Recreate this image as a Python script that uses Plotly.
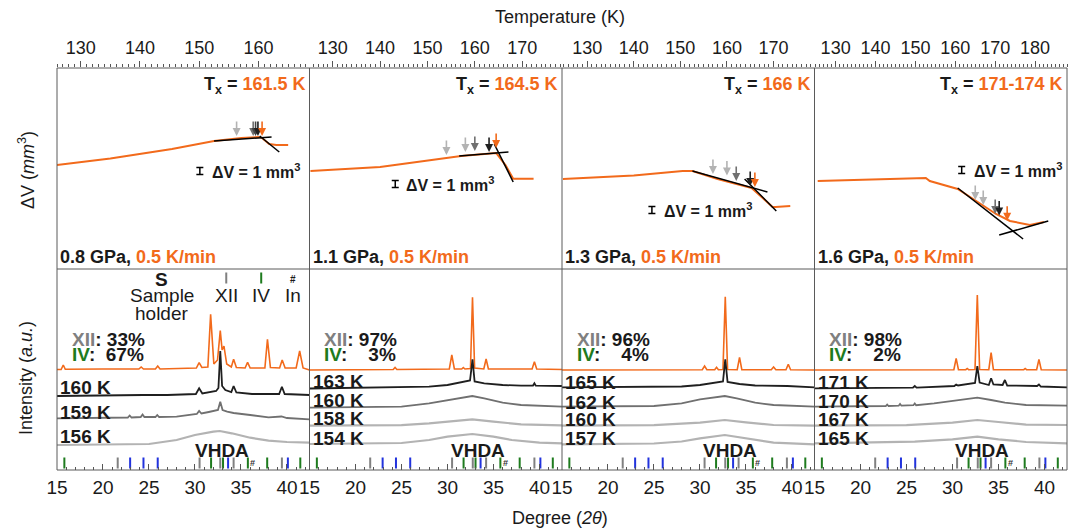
import plotly.graph_objects as go

# ---------------- data ----------------
ORANGE = "#F26A1B"
C_BLACK = "#1f1f1f"
C_DGRAY = "#707070"
C_LGRAY = "#b3b3b3"
C_GREEN = "#1e7b1e"
C_XII = "#808080"
C_BLUE = "#2233dd"

pressures = ["0.8 GPa", "1.1 GPa", "1.3 GPa", "1.6 GPa"]
rate = "0.5 K/min"
tx_labels = ["161.5 K", "164.5 K", "166 K", "171-174 K"]
t_ranges = [[126, 168.6], [125.1, 178.4], [124.6, 178.8], [124.7, 188.0]]
two_theta_range = [15, 42.45]

# Dilatometry curves (T in K, dV in mm^3, arbitrary zero)
dil_T = [
    [126, 135, 145.4, 152.5, 157.1, 160.1, 160.6, 161.8, 163, 165],
    [125.3, 140, 157.1, 164.5, 166.5, 168.1, 172.4],
    [124.8, 140, 150.5, 152.6, 158, 165.3, 169.8, 170.4, 173.6],
    [125.5, 140, 152.6, 153.6, 160.6, 170.2, 173.7, 178.7, 182.2],
]
dil_V = [
    [14.86, 15.8, 17.14, 18.29, 18.71, 18.86, 18.71, 17.86, 17.71, 17.71],
    [14.0, 14.57, 16.14, 16.57, 14.8, 12.91, 12.91],
    [12.86, 13.36, 14.0, 14.0, 12.86, 11.57, 8.86, 8.86, 9.0],
    [12.57, 12.76, 13.0, 12.57, 11.43, 7.86, 6.86, 6.29, 6.71],
]
# tangent lines (two per panel)
tan_T = [
    [[152.5, 162.2], [160.2, 163.5]],
    [[156.7, 167.1], [164.1, 168.1]],
    [[152.6, 168.7], [163.8, 170.6]],
    [[160.6, 177.0], [171.0, 183.3]],
]
tan_V = [
    [[18.29, 18.86], [19.0, 16.71]],
    [[16.14, 16.71], [17.86, 12.43]],
    [[14.0, 11.0], [12.86, 8.29]],
    [[11.57, 4.29], [4.86, 6.86]],
]
# arrows marking XRD temperatures and Tx
arrow_T = [
    [156.3, 159.1, 159.5, 159.9, 160.6],
    [154, 158, 160, 163, 164.5],
    [157, 160, 162, 165, 166],
    [165, 167, 170, 171, 173],
]
arrow_V = [
    [19.0, 19.0, 19.0, 19.0, 19.0],
    [16.29, 16.71, 16.86, 16.71, 17.29],
    [13.57, 13.36, 12.57, 11.86, 11.71],
    [9.86, 9.14, 7.86, 7.64, 6.9],
]
arrow_colors = [
    [C_LGRAY, C_DGRAY, "#444444", C_BLACK, ORANGE],
    [C_LGRAY, C_LGRAY, C_DGRAY, C_BLACK, ORANGE],
    [C_LGRAY, C_LGRAY, C_DGRAY, C_BLACK, ORANGE],
    [C_LGRAY, C_LGRAY, C_DGRAY, C_BLACK, ORANGE],
]
# 1 mm^3 scale bar position (T, dV) and its label start
scale_T = [150.1, 143.2, 143.9, 161.6]
scale_V = [14.0, 12.14, 8.43, 14.14]
scale_label_T = [151.8, 145.1, 146.0, 164.1]

# XRD patterns: (2theta, intensity a.u. incl. offset)
xrd = [
    [  # column 1
        ("orange", [15.0, 15.45, 15.68, 15.9, 20, 23.9, 24.15, 24.4, 25.7, 25.95, 26.2, 30.15, 30.45, 30.75, 31.4, 31.7, 32.05, 32.45, 32.75, 32.95, 33.15, 33.45, 33.95, 34.2, 34.5, 35.45, 35.72, 36.0, 37.6, 37.88, 38.2, 39.2, 39.48, 39.8, 41.0, 41.38, 41.75, 42.45],
                   [100.5, 100.5, 105, 100.7, 101, 101, 103, 101, 101, 104, 101, 102, 107.3, 102.5, 103, 155.7, 106, 110, 139.3, 120, 124, 106, 103, 110.7, 102.5, 102, 107.7, 102, 102, 130.7, 102.5, 102, 110, 102, 102, 119, 102, 100]),
        ("black", [15, 20, 24.2, 24.4, 27, 30.1, 30.45, 30.8, 32.3, 32.55, 32.75, 32.95, 33.3, 33.95, 34.2, 34.5, 36.2, 39.15, 39.45, 39.75, 42.45],
                  [74, 74.5, 75.5, 75, 75, 76, 81.7, 76.5, 79, 82, 119, 84, 80, 78, 84, 77.5, 76, 76, 83.3, 76, 75]),
        ("dgray", [15, 22.7, 22.9, 23.1, 24.1, 24.3, 24.5, 25.7, 25.9, 26.1, 28, 30.2, 30.45, 30.7, 31.5, 32.5, 32.75, 33.0, 33.5, 34.2, 36, 38, 39.4, 40, 42.45],
                  [51.7, 52.5, 54.5, 52.5, 53, 55.5, 53, 53, 55, 53, 53.3, 56, 59, 56.5, 58, 60, 68.3, 60, 58.3, 57, 55, 52.7, 53.5, 52, 50.7]),
        ("lgray", [15, 20, 25, 28, 30, 32, 32.7, 34, 36, 38, 40, 42.45],
                  [25, 25.5, 26, 30, 35, 38.3, 39, 36.7, 32.3, 29.3, 28, 27.3]),
    ],
    [  # column 2
        ("orange", [15, 24.1, 24.3, 24.5, 30.2, 30.47, 30.75, 31.55, 31.72, 31.9, 32.5, 32.72, 32.95, 33.95, 34.2, 34.45, 39.2, 39.45, 39.7, 42.45],
                   [100, 100.5, 102.5, 100.5, 101, 115, 101, 101, 102.5, 101, 101.5, 172.7, 102, 101, 111, 101, 101, 108.3, 101, 100.5]),
        ("black", [15, 25, 28, 30, 31.5, 32.45, 32.72, 32.95, 34, 36, 38, 39.3, 39.45, 39.6, 42.45],
                  [81.5, 82.5, 83.3, 85, 87.3, 89.5, 110.7, 88.5, 86.7, 85, 84.3, 84.5, 86.7, 84.3, 84]),
        ("dgray", [15, 25, 28, 30, 32.7, 34, 36, 38, 42.45],
                  [62.3, 63.3, 66.7, 70, 74, 71.7, 67.3, 65, 63.3]),
        ("lgray", [15, 25, 28, 30, 32.7, 35, 38, 42.45],
                  [44.3, 44.8, 46.7, 48.3, 50.7, 48.3, 45.7, 44.7]),
        ("lgray", [15, 25, 28, 30, 32.7, 35, 37, 40, 42.45],
                  [26, 27, 30, 33.3, 36, 33.3, 30, 27.3, 26.7]),
    ],
    [  # column 3
        ("orange", [15, 30.25, 30.5, 30.75, 31.6, 31.8, 32.0, 32.5, 32.75, 33.0, 34.05, 34.3, 34.55, 37.75, 38.0, 38.25, 39.35, 39.6, 39.85, 42.45],
                   [100, 100.3, 104, 100.3, 100.3, 102.7, 100.3, 100.5, 173.3, 100.5, 100.3, 112.7, 100.3, 100.3, 103, 100.3, 100.3, 105.7, 100.3, 100]),
        ("black", [15, 28, 30, 32, 32.5, 32.75, 33.0, 34.3, 36, 39.5, 42.45],
                  [82.7, 83.5, 85, 87.3, 88.5, 110.7, 88, 86, 84.5, 84, 82.7]),
        ("dgray", [15, 25, 28, 30, 32.7, 34, 36, 38, 42.45],
                  [63.3, 64, 66.7, 70.7, 74, 71.7, 67.3, 65, 63.3]),
        ("lgray", [15, 25, 30, 32.7, 35, 38, 42.45],
                  [44.3, 44.8, 47.3, 50, 47.7, 45, 44.3]),
        ("lgray", [15, 25, 28, 30, 32.7, 35, 38, 42.45],
                  [25.7, 26.5, 28.5, 31.7, 35, 31.7, 27.3, 25.7]),
    ],
    [  # column 4
        ("orange", [15, 30.15, 30.4, 30.65, 31.45, 31.6, 31.75, 32.45, 32.7, 32.95, 33.95, 34.2, 34.45, 37.75, 37.9, 38.05, 39.15, 39.4, 39.65, 42.45],
                   [100, 100.3, 111.7, 100.3, 100.3, 101.5, 100.3, 100.5, 175, 100.5, 100.3, 117.3, 100.3, 100.3, 101.5, 100.3, 100.3, 110.7, 100.3, 100]),
        ("black", [15, 25.7, 25.9, 26.1, 30.2, 30.4, 30.6, 32.0, 32.45, 32.7, 32.95, 33.95, 34.2, 34.45, 35.45, 35.7, 35.95, 39.2, 39.4, 39.6, 42.45],
                  [81.7, 82.3, 84, 82.3, 84, 85.5, 84.5, 86, 87, 104, 87.5, 85, 91.7, 85.5, 85, 90, 84.5, 84, 85.5, 83.5, 82.7]),
        ("dgray", [15, 22.75, 22.9, 23.05, 24.15, 24.3, 24.45, 25.75, 25.9, 26.05, 28, 30, 32.7, 34.2, 35.7, 38, 40, 42.45],
                  [63.3, 64, 65.5, 64, 64.3, 66, 64.3, 64.8, 66.5, 64.8, 66.7, 69.3, 72.3, 70, 67.3, 65, 65, 64.3]),
        ("lgray", [15, 25, 30, 32.7, 35, 38, 42.45],
                  [44.3, 44.8, 47.3, 50, 48, 45.3, 45]),
        ("lgray", [15, 24.3, 25.9, 30, 32.7, 35, 38, 42.45],
                  [26.7, 28, 28.3, 30.7, 33.3, 30.7, 28, 26.7]),
    ],
]
xrd_temps = [
    ["160 K", "159 K", "156 K"],
    ["163 K", "160 K", "158 K", "154 K"],
    ["165 K", "162 K", "160 K", "157 K"],
    ["171 K", "170 K", "167 K", "165 K"],
]
xrd_temp_y = [
    [83, 58, 34],
    [89, 70, 52, 32],
    [88, 68, 51, 32],
    [88, 69, 51, 32],
]
xii_pct = ["33%", "97%", "96%", "98%"]
iv_pct = ["67%", "3%", "4%", "2%"]
vhda_x = [32.9, 33.3, 33.3, 33.2]

# reference reflection positions (2theta)
ref_iv = [15.8, 31.75, 33.05, 35.75, 37.85, 41.45]
ref_xii = [21.6, 30.5, 32.75, 34.2, 39.45]
ref_holder = [22.95, 24.4, 25.95, 33.6, 40.1]
ref_in = [36.3]

t_ticks = list(range(130, 190, 10))
tt_ticks = list(range(15, 45, 5))

# ---------------- layout geometry ----------------
W, H = 1072, 528
X0, COLW = 57, 252.5
Y_TOP, Y_MID, Y_BOT = 68, 269, 470
V_MAX = (Y_MID - Y_TOP) / 7.0      # 7 px per mm^3
I_MAX = float(Y_BOT - Y_MID)

FONT = "Liberation Sans, Arial, sans-serif"
TXT = "#1a1a1a"
NB = "&nbsp;"

def px_x(p):
    return p / W

def px_y(p):
    return (H - p) / H

color_map = {"orange": ORANGE, "black": C_BLACK, "dgray": C_DGRAY, "lgray": C_LGRAY}
width_map = {"orange": 1.6, "black": 1.8, "dgray": 1.8, "lgray": 2.2}

fig = go.Figure()
layout = {}
annotations = []
shapes = []

for i in range(4):
    dom = [px_x(X0 + COLW * i), px_x(X0 + COLW * (i + 1))]
    kt, kb = i + 1, i + 5
    nt = "" if kt == 1 else str(kt)
    nb = str(kb)
    # top axes
    layout["xaxis" + nt] = dict(
        domain=dom, anchor="y" + nt, side="top", range=t_ranges[i], automargin=False,
        tickmode="array", tickvals=t_ticks, ticks="outside", ticklen=6, tickwidth=1,
        tickcolor="#555", showline=False, showgrid=False, zeroline=False,
        tickfont=dict(family=FONT, size=18, color=TXT), ticklabelstandoff=0,
        minor=dict(dtick=1, tick0=0, ticks="outside", ticklen=3, tickcolor="#555", showgrid=False),
    )
    layout["yaxis" + nt] = dict(domain=[px_y(Y_MID), px_y(Y_TOP)], anchor="x" + nt,
                                range=[0, V_MAX], visible=False, automargin=False)
    # bottom axes
    layout["xaxis" + nb] = dict(
        domain=dom, anchor="y" + nb, side="bottom", range=two_theta_range, automargin=False,
        tickmode="array", tickvals=tt_ticks, ticks="inside", ticklen=6, tickwidth=1,
        tickcolor="#555", showline=False, showgrid=False, zeroline=False,
        tickfont=dict(family=FONT, size=19, color=TXT), ticklabelstandoff=4,
        minor=dict(dtick=1, tick0=0, ticks="inside", ticklen=3, tickcolor="#555", showgrid=False),
    )
    layout["yaxis" + nb] = dict(domain=[px_y(Y_BOT), px_y(Y_MID)], anchor="x" + nb,
                                range=[0, I_MAX], visible=False, automargin=False)

    xt, yt = "x" + nt, "y" + nt
    xb, yb = "x" + nb, "y" + nb

    # ---- dilatometry ----
    fig.add_trace(go.Scatter(x=dil_T[i], y=dil_V[i], mode="lines",
                             line=dict(color=ORANGE, width=2), xaxis=xt, yaxis=yt,
                             showlegend=False, hoverinfo="skip"))
    for tx_, tv_ in zip(tan_T[i], tan_V[i]):
        fig.add_trace(go.Scatter(x=tx_, y=tv_, mode="lines",
                                 line=dict(color="black", width=1.5), xaxis=xt, yaxis=yt,
                                 showlegend=False, hoverinfo="skip"))
    for at, av, ac in zip(arrow_T[i], arrow_V[i], arrow_colors[i]):
        annotations.append(dict(x=at, y=av, xref=xt, yref=yt, text="", showarrow=True,
                                ax=0, ay=-16, arrowhead=2, arrowsize=1, arrowwidth=1.6,
                                arrowcolor=ac))
    # scale bar 1 mm^3 as an error bar
    fig.add_trace(go.Scatter(x=[scale_T[i]], y=[scale_V[i]], mode="markers",
                             marker=dict(size=1, color="rgba(0,0,0,0)"),
                             error_y=dict(type="constant", value=0.5, width=3.5,
                                          thickness=1.5, color="black"),
                             xaxis=xt, yaxis=yt, showlegend=False, hoverinfo="skip"))
    annotations.append(dict(x=scale_label_T[i], y=scale_V[i], xref=xt, yref=yt,
                            text="<b>ΔV = 1 mm<sup>3</sup></b>", showarrow=False,
                            xanchor="left", yanchor="middle",
                            font=dict(family=FONT, size=16, color=TXT)))
    annotations.append(dict(x=1, y=0.915, xref=xt + " domain", yref=yt + " domain",
                            text=f"<b>T<sub>x</sub> = <span style='color:{ORANGE}'>{tx_labels[i]}</span></b>",
                            showarrow=False, xanchor="right", yanchor="middle", xshift=-2,
                            font=dict(family=FONT, size=18, color=TXT)))
    annotations.append(dict(x=0, y=0.06, xref=xt + " domain", yref=yt + " domain",
                            text=f"<b>{pressures[i]}, <span style='color:{ORANGE}'>{rate}</span></b>",
                            showarrow=False, xanchor="left", yanchor="middle", xshift=1,
                            font=dict(family=FONT, size=18, color=TXT)))

    # ---- XRD ----
    for (kind, xs, ys) in xrd[i]:
        fig.add_trace(go.Scatter(x=xs, y=ys, mode="lines",
                                 line=dict(color=color_map[kind], width=width_map[kind]),
                                 xaxis=xb, yaxis=yb, showlegend=False, hoverinfo="skip"))
    for lab, ly in zip(xrd_temps[i], xrd_temp_y[i]):
        annotations.append(dict(x=15, y=ly, xref=xb, yref=yb, text=f"<b>{lab}</b>",
                                showarrow=False, xanchor="left", yanchor="middle", xshift=1,
                                font=dict(family=FONT, size=19, color=TXT)))
    pad_iv = NB * (2 if len(iv_pct[i]) == 3 else 4)
    annotations.append(dict(x=16.4, y=131, xref=xb, yref=yb,
                            text=f"<b><span style='color:{C_XII}'>XII</span>: {xii_pct[i]}</b>",
                            showarrow=False, xanchor="left", yanchor="middle",
                            font=dict(family=FONT, size=19, color=TXT)))
    annotations.append(dict(x=16.4, y=116, xref=xb, yref=yb,
                            text=f"<b><span style='color:{C_GREEN}'>IV</span>:{pad_iv}{iv_pct[i]}</b>",
                            showarrow=False, xanchor="left", yanchor="middle",
                            font=dict(family=FONT, size=19, color=TXT)))
    annotations.append(dict(x=vhda_x[i], y=20, xref=xb, yref=yb, text="<b>VHDA</b>",
                            showarrow=False, xanchor="center", yanchor="middle",
                            font=dict(family=FONT, size=19, color=TXT)))
    # reference tick marks
    for pos, col in ((ref_iv, C_GREEN), (ref_xii, C_XII), (ref_holder, C_BLUE)):
        fig.add_trace(go.Scatter(x=pos, y=[7] * len(pos), mode="markers",
                                 marker=dict(symbol="line-ns", size=8,
                                             line=dict(color=col, width=2)),
                                 xaxis=xb, yaxis=yb, showlegend=False, hoverinfo="skip"))
    for p in ref_in:
        annotations.append(dict(x=p, y=7, xref=xb, yref=yb, text="<b>#</b>",
                                showarrow=False, xanchor="center", yanchor="middle",
                                font=dict(family=FONT, size=9, color="#333")))

# legend-like header in first XRD panel
hdr = [
    (26.4, 191, "<b>S</b>", 19), (26.4, 175, "Sample", 19), (26.4, 157, "holder", 19),
    (33.4, 175, "XII", 19), (37.2, 175, "IV", 19), (40.65, 175, "In", 19),
    (40.65, 191, "<b>#</b>", 10),
]
for hx, hy, ht, hs in hdr:
    annotations.append(dict(x=hx, y=hy, xref="x5", yref="y5", text=ht, showarrow=False,
                            xanchor="center", yanchor="middle",
                            font=dict(family=FONT, size=hs, color=TXT)))
fig.add_trace(go.Scatter(x=[33.4], y=[192], mode="markers",
                         marker=dict(symbol="line-ns", size=8, line=dict(color=C_XII, width=2)),
                         xaxis="x5", yaxis="y5", showlegend=False, hoverinfo="skip"))
fig.add_trace(go.Scatter(x=[37.2], y=[192], mode="markers",
                         marker=dict(symbol="line-ns", size=8, line=dict(color=C_GREEN, width=2)),
                         xaxis="x5", yaxis="y5", showlegend=False, hoverinfo="skip"))

# frame lines
LC = "#5a5a5a"
for i in range(5):
    xx = px_x(X0 + COLW * i)
    shapes.append(dict(type="line", xref="paper", yref="paper", x0=xx, x1=xx,
                       y0=px_y(Y_BOT), y1=px_y(Y_TOP), line=dict(color=LC, width=1)))
for yy in (Y_TOP, Y_MID, Y_BOT):
    shapes.append(dict(type="line", xref="paper", yref="paper", x0=px_x(X0),
                       x1=px_x(X0 + 4 * COLW), y0=px_y(yy), y1=px_y(yy),
                       line=dict(color=LC, width=1)))

# axis titles
annotations += [
    dict(x=px_x(560), y=px_y(17), xref="paper", yref="paper", text="Temperature (K)",
         showarrow=False, xanchor="center", yanchor="middle",
         font=dict(family=FONT, size=18, color=TXT)),
    dict(x=px_x(560), y=px_y(518), xref="paper", yref="paper", text="Degree (<i>2θ</i>)",
         showarrow=False, xanchor="center", yanchor="middle",
         font=dict(family=FONT, size=18, color=TXT)),
    dict(x=px_x(26), y=px_y(170), xref="paper", yref="paper", text="ΔV (<i>mm</i><sup>3</sup>)",
         showarrow=False, textangle=-90, xanchor="center", yanchor="middle",
         font=dict(family=FONT, size=18, color=TXT)),
    dict(x=px_x(26), y=px_y(378), xref="paper", yref="paper", text="Intensity (<i>a.u.</i>)",
         showarrow=False, textangle=-90, xanchor="center", yanchor="middle",
         font=dict(family=FONT, size=18, color=TXT)),
]

fig.update_layout(
    width=W, height=H, autosize=False,
    margin=dict(l=0, r=0, t=0, b=0, autoexpand=False),
    paper_bgcolor="white", plot_bgcolor="white",
    showlegend=False, annotations=annotations, shapes=shapes,
    **layout,
)
fig.write_html("out.html")
